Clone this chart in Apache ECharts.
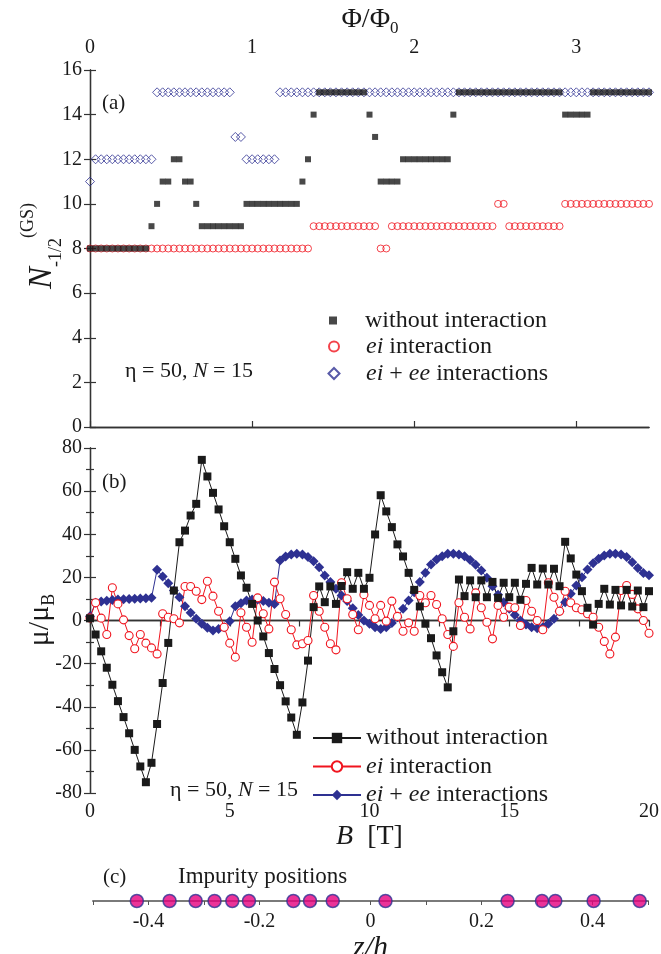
<!DOCTYPE html>
<html>
<head>
<meta charset="utf-8">
<script src="https://cdn.jsdelivr.net/npm/echarts@6/dist/echarts.min.js"></script>
<style>
  html, body { margin: 0; padding: 0; background: #fff; }
  #chart { width: 661px; height: 954px; }
</style>
</head>
<body>
<div id="chart"></div>
<script>
// B runs from 0 to 20 T in steps of 0.2 T (101 points per curve)
const B_STEP = 0.2;

// (a) N_-1/2 of the ground state
const nPlain = [
  8, 8, 8, 8, 8, 8, 8, 8, 8, 8,
  8, 9, 10, 11, 11, 12, 12, 11, 11, 10,
  9, 9, 9, 9, 9, 9, 9, 9, 10, 10,
  10, 10, 10, 10, 10, 10, 10, 10, 11, 12,
  14, 15, 15, 15, 15, 15, 15, 15, 15, 15,
  14, 13, 11, 11, 11, 11, 12, 12, 12, 12,
  12, 12, 12, 12, 12, 14, 15, 15, 15, 15,
  15, 15, 15, 15, 15, 15, 15, 15, 15, 15,
  15, 15, 15, 15, 15, 14, 14, 14, 14, 14,
  15, 15, 15, 15, 15, 15, 15, 15, 15, 15,
  15
];
const nEi = [
  8, 8, 8, 8, 8, 8, 8, 8, 8, 8,
  8, 8, 8, 8, 8, 8, 8, 8, 8, 8,
  8, 8, 8, 8, 8, 8, 8, 8, 8, 8,
  8, 8, 8, 8, 8, 8, 8, 8, 8, 8,
  9, 9, 9, 9, 9, 9, 9, 9, 9, 9,
  9, 9, 8, 8, 9, 9, 9, 9, 9, 9,
  9, 9, 9, 9, 9, 9, 9, 9, 9, 9,
  9, 9, 9, 10, 10, 9, 9, 9, 9, 9,
  9, 9, 9, 9, 9, 10, 10, 10, 10, 10,
  10, 10, 10, 10, 10, 10, 10, 10, 10, 10,
  10
];
const nEiEe = [
  11, 12, 12, 12, 12, 12, 12, 12, 12, 12,
  12, 12, 15, 15, 15, 15, 15, 15, 15, 15,
  15, 15, 15, 15, 15, 15, 13, 13, 12, 12,
  12, 12, 12, 12, 15, 15, 15, 15, 15, 15,
  15, 15, 15, 15, 15, 15, 15, 15, 15, 15,
  15, 15, 15, 15, 15, 15, 15, 15, 15, 15,
  15, 15, 15, 15, 15, 15, 15, 15, 15, 15,
  15, 15, 15, 15, 15, 15, 15, 15, 15, 15,
  15, 15, 15, 15, 15, 15, 15, 15, 15, 15,
  15, 15, 15, 15, 15, 15, 15, 15, 15, 15,
  15
];

// (b) magnetic moment mu/mu_B
const muPlain = [
  1, -6.5, -14.3, -21.9, -29.8, -37.4, -44.8, -52.3, -60, -67.7,
  -75, -66, -48, -29, -10.4, 13.9, 36.3, 41.7, 48.7, 54.1,
  74.5, 66.8, 59.2, 51.5, 43.7, 36.3, 28.6, 20.9, 15.2, 7.7,
  0, -7.4, -15.1, -22.5, -30, -37.5, -45, -53, -38, -18.6,
  6.2, 15.8, 8.5, 15.8, 7.7, 16, 22.4, 14.7, 22.1, 14.7,
  19.8, 39.9, 58.1, 50.6, 43.3, 35.3, 29.7, 22.1, 14.2, 6.5,
  -1.5, -8.2, -16.2, -24, -31, -5, 19, 11.3, 18.6, 10.8,
  18.6, 10.8, 17.9, 10.5, 17.5, 10.8, 17.5, 9.6, 17, 24.4,
  16.7, 24.1, 16.7, 24, 15.9, 36.5, 28.8, 21.3, 13.6, 5.9,
  -1.9, 7.7, 14.7, 7.4, 14.2, 7, 14.2, 6.5, 13.9, 6.2,
  13.6
];
const muEi = [
  1.2, 8.2, 1.1, -6.5, 15.2, 7.7, 0.3, -7, -13.1, -6.5,
  -10.5, -12.7, -15.5, 3.1, 1.5, 0.8, -1.1, 15.8, 15.8, 13.6,
  9.7, 18.2, 11.3, 4.3, -3.1, -10.5, -17, 3.6, -3.1, -10.1,
  10.5, 3.1, -3.9, 17.8, 10.1, 2.8, -4.3, -11.3, -10.8, -9.3,
  11.6, 4.3, -3.1, -10.8, -13.6, 17.5, 10.1, 2.8, -4.3, 12,
  7, 0.8, 7, -0.3, 9, 1.9, -5, -1.1, -5, 11.6,
  8.2, 11.6, 7.4, 0.8, -6.5, -12, 8.2, 1.5, -3.9, 12.8,
  5.9, -0.8, -8.5, 7, 1.5, 6.2, 5.9, -2.3, 9.3, 4.3,
  0, -4.3, 17.5, 10.8, 4.3, 13.6, 8.2, 5.9, 5, 3.1,
  1.5, -3.1, -9.7, -15.5, -7.7, 13.9, 16.2, 12.1, 5.4, 0,
  -5.9
];
const muEiEe = [
  2, 8.2, 8.8, 9.2, 9.5, 9.7, 9.9, 10, 10.1, 10.2,
  10.3, 10.5, 23.5, 20.4, 17.3, 13.9, 10.8, 6.6, 3.6, 0.8,
  -1.5, -3.4, -4.6, -3.9, -3.1, -0.3, 6.6, 8, 9.3, 9.7,
  9.7, 9.1, 8.2, 7.7, 27.8, 29.7, 30.6, 30.9, 30.6, 29.4,
  27.5, 24.7, 20.9, 17.8, 14.7, 11.6, 9, 5.7, 2.6, 0,
  -1.5, -3.1, -3.9, -3.1, -1.2, 1.5, 5.4, 9.3, 13.1, 17.8,
  22.1, 26, 28.3, 29.8, 30.9, 30.9, 30.6, 29.8, 28.1, 25.8,
  23.2, 19.8, 15.9, 12, 8.5, 5.4, 2.6, 0, -1.9, -3.1,
  -3.6, -3.1, -1.5, 0.8, 4.3, 8.5, 12.4, 16.2, 20.1, 23.7,
  26.6, 28.6, 30.1, 30.9, 30.9, 30.6, 29.4, 27, 24.4, 22,
  21
];

// (c) impurity positions z/h
const zImp = [-0.421, -0.362, -0.315, -0.281, -0.249, -0.219, -0.139, -0.109,
  -0.068, 0.027, 0.247, 0.309, 0.333, 0.402, 0.485];

// one flux quantum corresponds to about 5.8 T
const TESLA_PER_FLUX = 5.8;

const legendText = {
  a0: 'without interaction', a1: '{i|ei}{n| interaction}', a2: '{i|ei}{n| + }{i|ee}{n| interactions}',
  b0: 'without interaction', b1: '{i|ei}{n| interaction}', b2: '{i|ei}{n| + }{i|ee}{n| interactions}'
};

const serif = '"Liberation Serif", "Times New Roman", serif';
const ink = '#1a1a1a';
const red = '#f0141e';
const navy = '#2e3192';

const bGrid = nPlain.map((_, i) => +(i * B_STEP).toFixed(1));
const pairs = arr => arr.map((v, i) => [bGrid[i], v]);

const axisLine = { show: true, lineStyle: { color: '#333', width: 1.3 } };
const tickStyle = { color: '#333', width: 1.2 };
const labelStyle = { color: ink, fontSize: 20, fontFamily: serif };
const legendRich = {
  i: { fontStyle: 'italic', fontSize: 24, fontFamily: serif, color: ink, lineHeight: 22 },
  n: { fontSize: 24, fontFamily: serif, color: ink, lineHeight: 22 }
};
function legendOf(names, extra, pad) {
  return Object.assign({
    data: names, orient: 'vertical', padding: 0, selectedMode: false,
    formatter: name => legendText[name],
    textStyle: { fontSize: 24, fontFamily: serif, color: ink, lineHeight: 22, rich: legendRich,
      padding: [0, 0, 0, pad] }
  }, extra);
}
// symbol legends of panel (a): icon centred at x = 333, text from x = 365
function symbolLegend(name, size, top) {
  return legendOf([name], { left: 333 - size / 2, top: top, itemWidth: size, itemHeight: size },
    27 - size / 2);
}

var myChart = echarts.init(document.getElementById('chart'));
var option = {
  animation: false,
  backgroundColor: '#fff',
  grid: [
    { left: 90, top: 70, width: 559, height: 357, outerBoundsMode: 'none' },
    { left: 90, top: 448, width: 559, height: 345, outerBoundsMode: 'none' },
    { left: 93, top: 870, width: 555, height: 31, outerBoundsMode: 'none' }
  ],
  xAxis: [
    { gridIndex: 0, type: 'value', min: 0, max: 20, axisLine: axisLine,
      axisTick: { show: false }, axisLabel: { show: false }, splitLine: { show: false } },
    { gridIndex: 0, type: 'value', position: 'top', min: 0, max: 20 / TESLA_PER_FLUX, interval: 1,
      axisLine: axisLine, axisTick: { length: 6, lineStyle: tickStyle },
      axisLabel: Object.assign({ margin: 12, showMaxLabel: false,
        formatter: v => (Math.abs(v - Math.round(v)) < 1e-6 ? String(Math.round(v)) : '') }, labelStyle),
      splitLine: { show: false } },
    { gridIndex: 1, type: 'value', min: 0, max: 20, interval: 5, axisLine: axisLine,
      axisTick: { length: 6, lineStyle: tickStyle },
      minorTick: { show: true, splitNumber: 2, length: 6, lineStyle: tickStyle },
      axisLabel: Object.assign({ margin: 9 }, labelStyle), splitLine: { show: false },
      name: '{i|B}{n|  [T]}', nameLocation: 'middle', nameGap: 30,
      nameTextStyle: { rich: {
        i: { fontStyle: 'italic', fontSize: 28, fontFamily: serif, color: ink },
        n: { fontSize: 28, fontFamily: serif, color: ink } } } },
    { gridIndex: 1, type: 'value', position: 'top', min: 0, max: 20, axisLine: axisLine,
      axisTick: { show: false }, axisLabel: { show: false }, splitLine: { show: false } },
    { gridIndex: 2, type: 'value', min: -0.5, max: 0.5, interval: 0.1,
      axisLine: { show: true, lineStyle: { color: '#7a7a7a', width: 2 } },
      axisTick: { length: 4, lineStyle: { color: '#555', width: 1 } },
      axisLabel: Object.assign({ margin: 11, formatter: v => {
        const t = Math.round(v * 10);
        return (t % 2 === 0 && Math.abs(t) <= 4) ? String(t / 10) : '';
      } }, labelStyle),
      splitLine: { show: false },
      name: 'z/h', nameLocation: 'middle', nameGap: 27,
      nameTextStyle: { fontStyle: 'italic', fontSize: 30, fontFamily: serif, color: ink } }
  ],
  yAxis: [
    { gridIndex: 0, type: 'value', min: 0, max: 16, interval: 2, axisLine: axisLine,
      axisTick: { length: 6, lineStyle: tickStyle },
      axisLabel: Object.assign({ margin: 8 }, labelStyle), splitLine: { show: false } },
    { gridIndex: 0, type: 'value', position: 'right', min: 0, max: 16, interval: 2, axisLine: axisLine,
      axisTick: { length: 6, lineStyle: tickStyle }, axisLabel: { show: false }, splitLine: { show: false } },
    { gridIndex: 1, type: 'value', min: -80, max: 80, interval: 20, axisLine: axisLine,
      axisTick: { length: 6, lineStyle: tickStyle },
      minorTick: { show: true, splitNumber: 2, length: 4, lineStyle: tickStyle },
      axisLabel: Object.assign({ margin: 8 }, labelStyle), splitLine: { show: false } },
    { gridIndex: 1, type: 'value', position: 'right', min: -80, max: 80, interval: 20, axisLine: axisLine,
      axisTick: { length: 6, lineStyle: tickStyle },
      minorTick: { show: true, splitNumber: 2, length: 4, lineStyle: tickStyle },
      axisLabel: { show: false }, splitLine: { show: false } },
    { gridIndex: 2, type: 'value', min: 0, max: 1, show: false }
  ],
  legend: [
    symbolLegend('a0', 8, 308.5),
    symbolLegend('a1', 10, 334.5),
    symbolLegend('a2', 11, 361.5),
    legendOf(['b0', 'b1', 'b2'], { left: 312, top: 726, itemWidth: 48, itemHeight: 13, itemGap: 4.5 }, 0)
  ],
  series: [
    { name: 'a2', type: 'scatter', xAxisIndex: 0, yAxisIndex: 0, data: pairs(nEiEe), clip: false,
      symbol: 'diamond', symbolSize: 9,
      itemStyle: { color: 'rgba(255,255,255,0)', borderColor: navy, borderWidth: 1 } },
    { name: 'a1', type: 'scatter', xAxisIndex: 0, yAxisIndex: 0, data: pairs(nEi), clip: false,
      symbol: 'circle', symbolSize: 7,
      itemStyle: { color: 'rgba(255,255,255,0)', borderColor: red, borderWidth: 1 } },
    { name: 'a0', type: 'scatter', xAxisIndex: 0, yAxisIndex: 0, data: pairs(nPlain), clip: false,
      symbol: 'rect', symbolSize: 6, itemStyle: { color: ink } },

    { name: 'b2', type: 'line', xAxisIndex: 2, yAxisIndex: 2, data: pairs(muEiEe), clip: false,
      symbol: 'diamond', symbolSize: 10, showAllSymbol: true,
      itemStyle: { color: navy }, lineStyle: { color: navy, width: 1 } },
    { name: 'b1', type: 'line', xAxisIndex: 2, yAxisIndex: 2, data: pairs(muEi), clip: false,
      symbol: 'circle', symbolSize: 8, showAllSymbol: true,
      itemStyle: { color: '#fff', borderColor: red, borderWidth: 1.1 }, lineStyle: { color: red, width: 1 } },
    { name: 'b0', type: 'line', xAxisIndex: 2, yAxisIndex: 2, data: pairs(muPlain), clip: false,
      symbol: 'rect', symbolSize: 8, showAllSymbol: true,
      itemStyle: { color: ink }, lineStyle: { color: ink, width: 1 } },

    { name: 'impurities', type: 'scatter', xAxisIndex: 4, yAxisIndex: 4, clip: false, z: 5,
      data: zImp.map(z => [z, 0]), symbol: 'circle', symbolSize: 13,
      itemStyle: { color: '#e6007e', borderColor: navy, borderWidth: 1.5 } }
  ],
  graphic: [
    { type: 'text', x: 370, y: 20, style: {
      text: '{a|Φ/Φ}{s|0}', align: 'center', verticalAlign: 'middle',
      rich: { a: { fontSize: 28, fontFamily: serif, fill: ink, lineHeight: 34, verticalAlign: 'middle' },
              s: { fontSize: 17, fontFamily: serif, fill: ink, lineHeight: 17, verticalAlign: 'bottom' } } } },
    { type: 'text', x: 42, y: 246, rotation: Math.PI / 2, style: {
      text: '{n|N}{sb|-1/2}{sp|(GS)}', align: 'center', verticalAlign: 'middle',
      rich: { n: { fontSize: 33, fontStyle: 'italic', fontFamily: serif, fill: ink, lineHeight: 46, verticalAlign: 'middle' },
              sb: { fontSize: 18, fontFamily: serif, fill: ink, lineHeight: 18, verticalAlign: 'bottom' },
              sp: { fontSize: 18, fontFamily: serif, fill: ink, lineHeight: 18, verticalAlign: 'top' } } } },
    { type: 'text', x: 40, y: 620, rotation: Math.PI / 2, style: {
      text: '{n|μ/μ}{sb|B}', align: 'center', verticalAlign: 'middle',
      rich: { n: { fontSize: 30, fontFamily: serif, fill: ink, lineHeight: 36, verticalAlign: 'middle' },
              sb: { fontSize: 18, fontFamily: serif, fill: ink, lineHeight: 18, verticalAlign: 'bottom' } } } },
    { type: 'text', x: 102, y: 103, style: { text: '(a)', fontSize: 21, fontFamily: serif, fill: ink, verticalAlign: 'middle' } },
    { type: 'text', x: 102, y: 482, style: { text: '(b)', fontSize: 21, fontFamily: serif, fill: ink, verticalAlign: 'middle' } },
    { type: 'text', x: 103, y: 877, style: { text: '(c)', fontSize: 21, fontFamily: serif, fill: ink, verticalAlign: 'middle' } },
    { type: 'text', x: 178, y: 877, style: { text: 'Impurity positions', fontSize: 23, fontFamily: serif, fill: ink, verticalAlign: 'middle' } },
    { type: 'text', x: 125, y: 371, style: {
      text: '{n|η = 50, }{i|N}{n| = 15}', verticalAlign: 'middle',
      rich: { n: { fontSize: 22, fontFamily: serif, fill: ink }, i: { fontSize: 22, fontStyle: 'italic', fontFamily: serif, fill: ink } } } },
    { type: 'text', x: 170, y: 790, style: {
      text: '{n|η = 50, }{i|N}{n| = 15}', verticalAlign: 'middle',
      rich: { n: { fontSize: 22, fontFamily: serif, fill: ink }, i: { fontSize: 22, fontStyle: 'italic', fontFamily: serif, fill: ink } } } }
  ]
};
option && myChart.setOption(option);
</script>
</body>
</html>
